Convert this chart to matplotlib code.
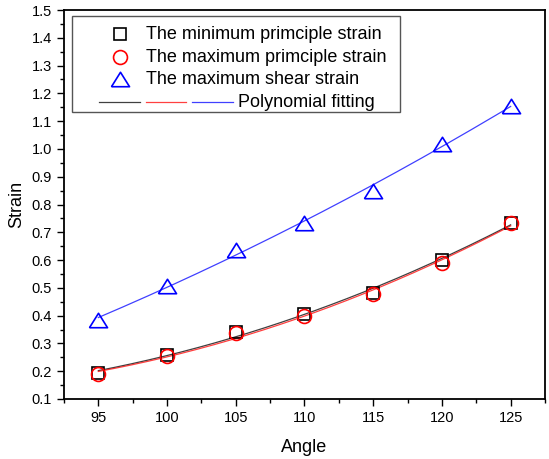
import numpy as np
import matplotlib.pyplot as plt
from matplotlib.patches import Rectangle
from matplotlib.ticker import MultipleLocator

plt.rcParams['font.family'] = ['Liberation Sans', 'DejaVu Sans']

# data
angle = [95, 100, 105, 110, 115, 120, 125]
min_strain = [0.195, 0.258, 0.342, 0.405, 0.482, 0.602, 0.735]
max_strain = [0.190, 0.255, 0.338, 0.398, 0.478, 0.590, 0.735]
shear_strain = [0.385, 0.507, 0.637, 0.735, 0.850, 1.018, 1.155]
labels = ['The minimum primciple strain', 'The maximum primciple strain',
          'The maximum shear strain']
colors = ['black', 'red', 'blue']

W, H = 549, 459
fig = plt.figure(figsize=(W/100, H/100), dpi=100)
L, R, T, B = 64, 545, 10, 399
ax = fig.add_axes([L/W, 1-B/H, (R-L)/W, (B-T)/H])

tri = [(-1, -0.8), (1, -0.8), (0, 0.8), (-1, -0.8)]
mk = [dict(marker='s', ms=9), dict(marker='o', ms=10), dict(marker=tri, ms=13)]

# polynomial fit curves
xf = np.linspace(min(angle), max(angle), 200)
for ys, c in zip([min_strain, max_strain, shear_strain], colors):
    p = np.polyfit(angle, ys, 2)
    ax.plot(xf, np.polyval(p, xf), color=c, lw=0.9, alpha=0.75)

for ys, c, m in zip([min_strain, max_strain, shear_strain], colors, mk):
    ax.plot(angle, ys, ls='none', mfc='none', mec=c, mew=1.2, **m)

ax.set_xlim(92.5, 127.5)
ax.set_ylim(0.1, 1.5)
ax.xaxis.set_major_locator(MultipleLocator(5))
ax.xaxis.set_minor_locator(MultipleLocator(2.5))
ax.yaxis.set_major_locator(MultipleLocator(0.1))
ax.yaxis.set_minor_locator(MultipleLocator(0.05))
ax.yaxis.set_major_formatter(plt.FormatStrFormatter('%.1f'))
ax.tick_params(which='major', length=5, width=1, labelsize=10.5, direction='out')
ax.tick_params(which='minor', length=3, width=1, direction='out')
for s in ax.spines.values():
    s.set_linewidth(1.3)

ax.set_xlabel('Angle', fontsize=13, labelpad=10)
ax.set_ylabel('Strain', fontsize=13, labelpad=5)

# legend box drawn by hand (Origin style)
def fx(px):
    return (px - L) / (R - L)

def fy(py):
    return (B - py) / (B - T)

tr = ax.transAxes
ax.add_patch(Rectangle((fx(72), fy(112)), fx(400) - fx(72), fy(16) - fy(112),
                       transform=tr, fill=True, fc='white', ec='#555555',
                       lw=1.0, zorder=5, clip_on=False))
rows = [34, 57, 79, 102]
for i in range(3):
    ax.plot([fx(120)], [fy(rows[i])], transform=tr, ls='none', mfc='none',
            mec=colors[i], mew=1.2, zorder=6, clip_on=False, **mk[i])
    ax.text(fx(146), fy(rows[i]), labels[i], transform=tr, fontsize=13,
            va='center', ha='left', zorder=6)
for (a, b), c in zip([(99, 140), (146, 186), (192, 233)], colors):
    ax.plot([fx(a), fx(b)], [fy(rows[3])] * 2, transform=tr, color=c,
            lw=0.9, alpha=0.75, zorder=6)
ax.text(fx(238), fy(rows[3]), 'Polynomial fitting', transform=tr, fontsize=13,
        va='center', ha='left', zorder=6)

plt.savefig('out.png', dpi=100)
plt.close()
